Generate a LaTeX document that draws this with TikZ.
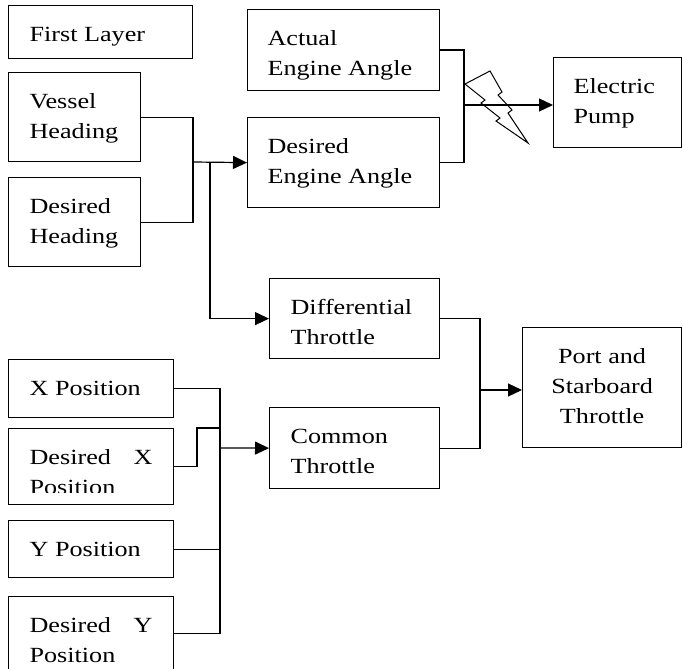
\documentclass[tikz,border=0pt]{standalone}
\usepackage{fontspec}
\setmainfont{Liberation Serif}[FakeStretch=1.21]
\usetikzlibrary{positioning,arrows.meta}

\begin{document}
\begin{tikzpicture}[x=1bp,y=-1bp,line width=1.2bp]
        \tikzstyle{blk}=[draw,anchor=north west,inner sep=0pt]
        \tikzstyle{txt}=[anchor=north west,inner sep=0pt,align=left,font=\fontsize{21.7}{30}\selectfont]
        \tikzstyle{arr}=[-{Triangle[length=14bp,width=13bp]}]
        \useasboundingbox (0,0) rectangle (683,669);
        % boxes
        \node[blk,minimum width=184bp,minimum height=53bp] (fl) at (8,5) {};
        \node[blk,minimum width=132bp,minimum height=89bp] (vh) at (8,72) {};
        \node[blk,minimum width=132bp,minimum height=89bp] (dh) at (8,177) {};
        \node[blk,minimum width=192bp,minimum height=81bp] (ae) at (247,9) {};
        \node[blk,minimum width=192bp,minimum height=90bp] (de) at (247,117) {};
        \node[blk,minimum width=128bp,minimum height=90bp] (ep) at (553,57) {};
        \node[blk,minimum width=170bp,minimum height=80bp] (dt) at (269,278) {};
        \node[blk,minimum width=170bp,minimum height=81bp] (ct) at (269,407) {};
        \node[blk,minimum width=159bp,minimum height=120bp] (pt) at (522,327) {};
        \node[blk,minimum width=165bp,minimum height=58bp] (xp) at (8,359) {};
        \node[blk,minimum width=165bp,minimum height=76bp] (dx) at (8,428) {};
        \node[blk,minimum width=165bp,minimum height=57bp] (yp) at (8,520) {};
        \node[blk,minimum width=165bp,minimum height=74bp] (dy) at (8,596) {};
        % texts
        \node[txt,below right=15bp and 21bp of fl.north west] (flt) {\strut First Layer};
        \node[txt,below right=15bp and 21bp of vh.north west] (vht) {\strut Vessel\\Heading};
        \node[txt,below right=15bp and 21bp of dh.north west] (dht) {\strut Desired\\Heading};
        \node[txt,below right=15bp and 20bp of ae.north west] (aet) {\strut Actual\\Engine Angle};
        \node[txt,below right=15bp and 20bp of de.north west] (det) {\strut Desired\\Engine Angle};
        \node[txt,below right=15bp and 20bp of ep.north west] (ept) {\strut Electric\\Pump};
        \node[txt,below right=15bp and 21bp of dt.north west] (dtt) {\strut Differential\\Throttle};
        \node[txt,below right=15bp and 21bp of ct.north west] (ctt) {\strut Common\\Throttle};
        \node[txt,anchor=north,align=center,below=15bp of pt.north] (ptt) {\strut Port and\\Starboard\\Throttle};
        \node[txt,below right=15bp and 21bp of xp.north west] (xpt) {\strut X Position};
        \node[txt,below right=15bp and 21bp of yp.north west] (ypt) {\strut Y Position};
        \begin{scope}
            \clip (8,428) rectangle (173,492);
            \node[txt,below right=15bp and 21bp of dx.north west] (dxt) {\strut\hbox to 123bp{Desired\hfill X}\\Position};
        \end{scope}
        \begin{scope}
            \clip (8,596) rectangle (173,662);
            \node[txt,below right=15bp and 21bp of dy.north west] (dyt) {\strut\hbox to 123bp{Desired\hfill Y}\\Position};
        \end{scope}
        % connectors
        \coordinate (jh) at (193,162);
        \coordinate (jd) at (210,162);
        \coordinate (je) at (464,105);
        \coordinate (jt) at (480,390);
        \coordinate (jp) at (220,448);
        \coordinate (kx) at (197,428);
        \draw (vh.east) -| (jh) |- (dh.east);
        \draw[arr] (jh) -- (de.west);
        \draw[arr] (jd) |- (dt.west);
        \draw (ae.east) -| (je) |- (de.east);
        \draw[arr] (je) -- (je -| ep.west);
        \draw (dt.east) -| (jt) |- (ct.east);
        \draw[arr] (jt) -- (jt -| pt.west);
        \draw (xp.east) -| (jp) |- (dy.east);
        \draw (yp.east) -- (yp.east -| jp);
        \draw (dx.east) -| (kx) -- (kx -| jp);
        \draw[arr] (jp) -- (ct.west);
        % lightning
        \draw[line width=1bp,line join=miter] (465,84) -- (490,71) -- (502,92) -- (498,95) -- (512,110) -- (508,113)
            -- (528,143) -- (496,121) -- (500,118) -- (481,103) -- (485,100) -- cycle;
\end{tikzpicture}
\end{document}
